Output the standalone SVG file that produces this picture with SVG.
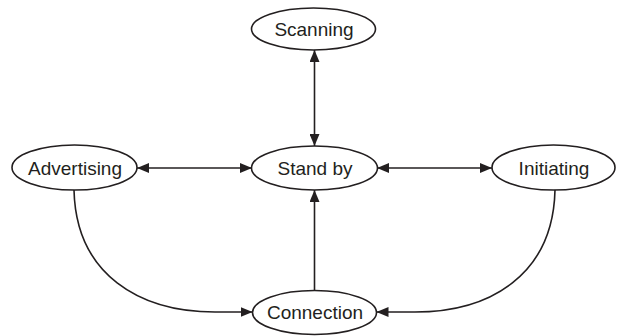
<svg xmlns="http://www.w3.org/2000/svg" width="617" height="336" viewBox="0 0 617 336">
<defs>
<style>
.node ellipse{fill:#fff;stroke:#231f20;stroke-width:1.6}
.node text{font-family:"Liberation Sans",Arial,sans-serif;font-size:19px;fill:#231f20;text-anchor:middle}
.edge{fill:none;stroke:#231f20;stroke-width:1.6}
</style>
<marker id="ah" viewBox="0 0 12 10" refX="12" refY="5" markerWidth="12" markerHeight="10" markerUnits="userSpaceOnUse" orient="auto-start-reverse">
<path d="M0,0 L12,5 L0,10 Z" fill="#231f20"/>
</marker>
</defs>
<rect width="617" height="336" fill="#fff"/>
<g id="connectors">
<line class="edge" x1="314.5" y1="50" x2="314.5" y2="146" marker-start="url(#ah)" marker-end="url(#ah)"/>
<line class="edge" x1="137" y1="168" x2="252" y2="168" marker-start="url(#ah)" marker-end="url(#ah)"/>
<line class="edge" x1="377" y1="168" x2="492" y2="168" marker-start="url(#ah)" marker-end="url(#ah)"/>
<line class="edge" x1="314.5" y1="290" x2="314.5" y2="190" marker-end="url(#ah)"/>
<path class="edge" d="M74,190 C76,275 140,312 215,312 L252.5,312" marker-end="url(#ah)"/>
<path class="edge" d="M555,190 C553,275 490,312 415,312 L376.5,312" marker-end="url(#ah)"/>
</g>
<g id="scanning" class="node"><ellipse cx="313.5" cy="29" rx="62" ry="21"/><text x="314" y="36">Scanning</text></g>
<g id="standby" class="node"><ellipse cx="314.5" cy="168" rx="63" ry="22"/><text x="315" y="175">Stand by</text></g>
<g id="advertising" class="node"><ellipse cx="74.5" cy="167.5" rx="62.5" ry="22.5"/><text x="75" y="175">Advertising</text></g>
<g id="initiating" class="node"><ellipse cx="553.5" cy="167.5" rx="61.5" ry="22.5"/><text x="554" y="175">Initiating</text></g>
<g id="connection" class="node"><ellipse cx="314.5" cy="312.5" rx="62" ry="22"/><text x="315" y="319">Connection</text></g>
</svg>
